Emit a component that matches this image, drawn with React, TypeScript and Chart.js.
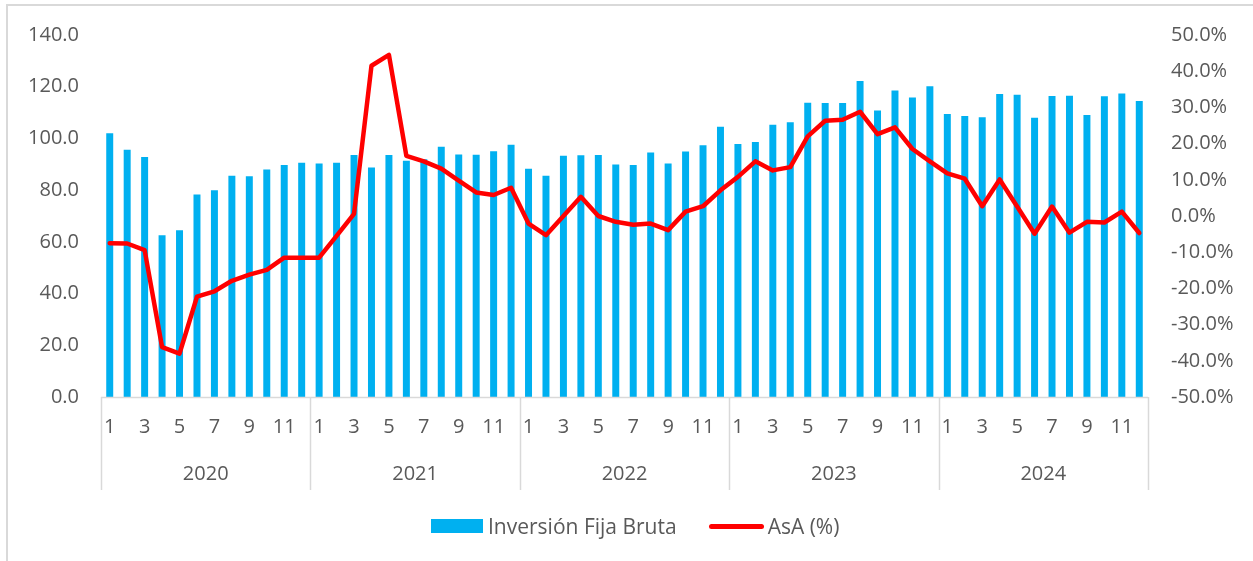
import React, { useEffect, useRef } from "react";
import { Chart, registerables } from "chart.js";

Chart.register(...registerables);

const years = ["2020", "2021", "2022", "2023", "2024"];
const months = ["1", "2", "3", "4", "5", "6", "7", "8", "9", "10", "11", "12"];

const inversion2020 = [102.0, 95.6, 92.8, 62.6, 64.5, 78.3, 80.0, 85.6, 85.4, 88.0, 89.7, 90.6];
const inversion2021 = [90.3, 90.6, 93.6, 88.8, 93.6, 91.4, 91.9, 96.8, 93.8, 93.7, 95.0, 97.6];
const inversion2022 = [88.3, 85.6, 93.3, 93.5, 93.6, 89.9, 89.7, 94.6, 90.3, 94.9, 97.4, 104.5];
const inversion2023 = [97.8, 98.6, 105.3, 106.3, 113.8, 113.7, 113.7, 122.2, 110.8, 118.5, 115.8, 120.2];
const inversion2024 = [109.4, 108.7, 108.2, 117.2, 116.9, 108.0, 116.4, 116.5, 109.1, 116.3, 117.4, 114.5];

const asa2020 = [-7.5, -7.6, -9.4, -36.2, -38.0, -22.3, -20.8, -17.9, -16.2, -14.9, -11.5, -11.5];
const asa2021 = [-11.5, -5.5, 0.6, 41.5, 44.5, 16.6, 15.1, 13.1, 9.8, 6.5, 5.8, 7.8];
const asa2022 = [-2.1, -5.3, 0.0, 5.3, 0.0, -1.6, -2.4, -2.1, -3.9, 1.2, 2.7, 7.1];
const asa2023 = [10.8, 15.1, 12.6, 13.5, 22.0, 26.3, 26.6, 28.8, 22.6, 24.5, 18.5, 15.1];
const asa2024 = [11.8, 10.3, 2.7, 10.1, 2.6, -4.9, 2.6, -4.6, -1.6, -1.8, 1.2, -4.7];

const barLabel = "Inversión Fija Bruta";
const lineLabel = "AsA (%)";

const labels = years.flatMap((y) => months.map((m) => `${y}-${m}`));
const inversion = [...inversion2020, ...inversion2021, ...inversion2022, ...inversion2023, ...inversion2024];
const asa = [...asa2020, ...asa2021, ...asa2022, ...asa2023, ...asa2024];

const FONT = "'Open Sans', 'Noto Sans', sans-serif";
const TEXT = "#595959";
const GRID = "#d9d9d9";

const yearAxisPlugin = {
  id: "yearAxis",
  afterDraw(chart: any) {
    const { ctx, chartArea, scales } = chart;
    const xs = scales.x;
    const n = labels.length;
    const bottom = chartArea.bottom;
    const boundary = (i: number) => {
      if (i <= 0) return chartArea.left;
      if (i >= n) return chartArea.right;
      return (xs.getPixelForValue(i - 1) + xs.getPixelForValue(i)) / 2;
    };
    ctx.save();
    ctx.strokeStyle = GRID;
    ctx.lineWidth = 1.5;
    ctx.beginPath();
    ctx.moveTo(chartArea.left, bottom + 0.5);
    ctx.lineTo(chartArea.right, bottom + 0.5);
    ctx.stroke();
    for (let k = 0; k <= years.length; k++) {
      const xp = Math.round(boundary(k * months.length)) + 0.5;
      ctx.beginPath();
      ctx.moveTo(xp, bottom);
      ctx.lineTo(xp, bottom + 93);
      ctx.stroke();
    }
    ctx.fillStyle = TEXT;
    ctx.font = `20px ${FONT}`;
    ctx.textAlign = "center";
    ctx.textBaseline = "middle";
    years.forEach((y, k) => {
      const a = boundary(k * months.length);
      const b = boundary((k + 1) * months.length);
      ctx.fillText(y, (a + b) / 2, bottom + 77);
    });
    ctx.restore();
  },
};

export default function App() {
  const ref = useRef<HTMLCanvasElement | null>(null);

  useEffect(() => {
    if (!ref.current) return;
    const chart = new Chart(ref.current, {
      type: "bar",
      data: {
        labels,
        datasets: [
          {
            type: "line",
            label: lineLabel,
            data: asa,
            yAxisID: "y1",
            borderColor: "#FF0000",
            backgroundColor: "#FF0000",
            borderWidth: 4.5,
            pointRadius: 0,
            tension: 0,
            borderCapStyle: "round",
            borderJoinStyle: "round",
            order: 0,
          } as any,
          {
            type: "bar",
            label: barLabel,
            data: inversion,
            yAxisID: "y",
            backgroundColor: "#00B0F0",
            barPercentage: 0.8,
            categoryPercentage: 0.5,
            order: 1,
          },
        ],
      },
      options: {
        responsive: false,
        animation: false,
        layout: { padding: { top: 33, left: 0, right: 0, bottom: 0 } },
        plugins: { legend: { display: false }, tooltip: { enabled: false } },
        scales: {
          x: {
            type: "category",
            offset: true,
            grid: { display: false, drawTicks: false },
            border: { display: false },
            ticks: {
              autoSkip: false,
              maxRotation: 0,
              minRotation: 0,
              padding: 18,
              color: TEXT,
              font: { family: FONT, size: 20 },
              callback: (_v: any, i: number) => (i % 2 === 0 ? months[i % 12] : ""),
            },
            afterFit: (s: any) => {
              s.height = 164;
            },
          },
          y: {
            position: "left",
            min: 0,
            max: 140,
            grid: { display: false, drawTicks: false },
            border: { display: false },
            ticks: {
              stepSize: 20,
              padding: 22,
              color: TEXT,
              font: { family: FONT, size: 20 },
              callback: (v: any) => Number(v).toFixed(1),
            },
            afterFit: (s: any) => {
              s.width = 101;
            },
          },
          y1: {
            position: "right",
            min: -50,
            max: 50,
            grid: { display: false, drawTicks: false },
            border: { display: false },
            ticks: {
              stepSize: 10,
              padding: 23,
              color: TEXT,
              font: { family: FONT, size: 20 },
              callback: (v: any) => Number(v).toFixed(1) + "%",
            },
            afterFit: (s: any) => {
              s.width = 105;
            },
          },
        },
      } as any,
      plugins: [yearAxisPlugin],
    });
    return () => chart.destroy();
  }, []);

  return (
    <div style={{ position: "fixed", left: 0, top: 0, width: 1253, height: 561, background: "#fff", overflow: "hidden" }}>
      <div
        style={{
          position: "absolute",
          left: 6,
          top: 4,
          width: 1400,
          height: 700,
          borderTop: `2px solid ${GRID}`,
          borderLeft: `2px solid ${GRID}`,
        }}
      />
      <canvas ref={ref} width={1253} height={561} style={{ position: "absolute", left: 0, top: 0 }} />
      <div
        style={{
          position: "absolute",
          top: 511,
          left: 431,
          display: "flex",
          alignItems: "center",
          height: 30,
          fontFamily: FONT,
          fontSize: 21,
          color: TEXT,
          whiteSpace: "nowrap",
        }}
      >
        <span style={{ display: "inline-block", width: 52, height: 14, background: "#00B0F0", marginRight: 5 }} />
        <span>{barLabel}</span>
        <span
          style={{
            display: "inline-block",
            width: 55,
            height: 5,
            borderRadius: 3,
            background: "#FF0000",
            marginLeft: 32,
            marginRight: 4,
          }}
        />
        <span>{lineLabel}</span>
      </div>
    </div>
  );
}
